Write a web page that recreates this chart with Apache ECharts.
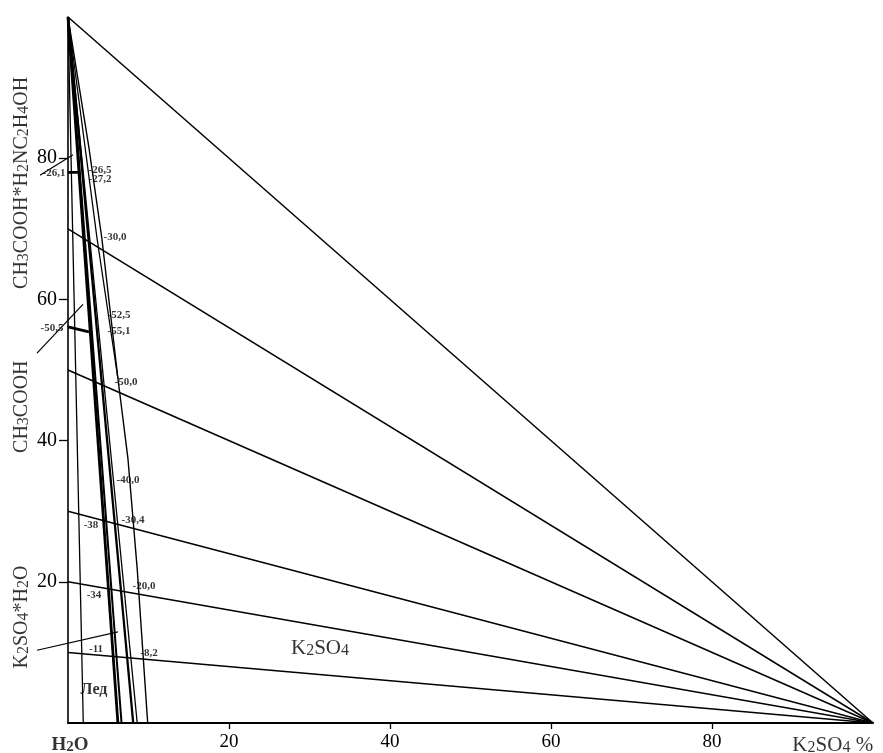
<!DOCTYPE html>
<html>
<head>
<meta charset="utf-8">
<script src="https://cdn.jsdelivr.net/npm/echarts@6/dist/echarts.min.js"></script>
<style>
  html, body { margin: 0; padding: 0; background: #fff; }
  #chart { width: 883px; height: 753px; }
</style>
</head>
<body>
<div id="chart"></div>
<script>
// Polythermal solubility diagram, water corner at the origin
const xTicks = [20, 40, 60, 80];
const yTicks = [20, 40, 60, 80];

// isotherm section rays from the K2SO4 vertex to the water–salt side (% of the salt)
const rayLevels = [10, 20, 30, 50, 70];

// triangle side from the organic salt vertex to the K2SO4 vertex
const sideLine = [[0, 100], [100, 0]];

// crystallization boundary lines
const iceLine = [[0, 100], [1.9, 0]];
const boundB1 = [[0, 100], [6.2, 0]];
const boundB2 = [[0, 100], [6.65, 0]];
const boundC1 = [[0, 100], [8.1, 0]];
const boundC2 = [[0, 100], [8.6, 0]];
const boundD = [[0, 100], [2.6, 81.5], [4.2, 68.7], [6.2, 48.8], [7.45, 37.4], [8.6, 21.8], [9.9, 0]];
const boundE = [[0, 100], [3.6, 68.7], [6.2, 48.8]];

// short tie segments
const tieUpper = [[0, 78.0], [1.5, 78.0]];
const tieLower = [[0, 56.1], [2.6, 55.4]];

// leaders from the field names to their fields: [x1, y1, x2, y2]
const leaders = [
  [-3.48, 77.6, 0.62, 80.5],
  [-3.85, 52.4, 1.86, 59.3],
  [-3.85, 10.3, 6.2, 12.9]
];

// temperature marks (°C) and field names
const tempLabels = ['-26,1', '-26,5', '-27,2', '-30,0', '-52,5', '-55,1', '-50,5', '-50,0', '-40,0', '-38', '-30,4', '-34', '-20,0', '-11', '-8,2'];
const tempAnchors = [[-1.74, 77.9], [3.98, 78.3], [3.98, 77.05], [5.84, 68.8], [6.34, 57.8], [6.34, 55.5], [-1.99, 55.9], [7.2, 48.3], [7.45, 34.4], [2.86, 28.0], [8.07, 28.75], [3.23, 18.1], [9.44, 19.4], [3.48, 10.5], [10.06, 9.9]];

const fieldNames = ['CH3COOH*H2NC2H4OH', 'CH3COOH', 'K2SO4*H2O', 'K2SO4', 'Лед', 'H2O', 'K2SO4 %'];
const fieldAnchors = [[-5.71, 76.5], [-5.71, 44.8], [-5.71, 15.0], [31.3, 10.6], [3.23, 4.7], [0.25, -3.1], [95.0, -3.2]];

const SERIF = "'Liberation Serif', 'Times New Roman', serif";
const INK = '#000';

// chemical formula -> rich text with smaller digit subscripts
function formula(str, style) {
  return str.replace(/[^0-9]+|[0-9]+/g, function (part) {
    return /[0-9]/.test(part) ? '{' + style + 's|' + part + '}' : '{' + style + '|' + part + '}';
  });
}

function richSet(name, size, weight) {
  const o = {};
  o[name] = { fontFamily: SERIF, fontSize: size, color: INK, fontWeight: weight };
  o[name + 's'] = { fontFamily: SERIF, fontSize: Math.round(size * 0.78), color: INK, fontWeight: weight, verticalAlign: 'bottom' };
  return o;
}

const rich = Object.assign({},
  richSet('big', 20, 'normal'),
  richSet('mid', 21, 'normal'),
  richSet('cor', 21, 'normal'),
  richSet('axn', 19, 'bold'));

function lineSeries(points, width) {
  return {
    type: 'line', data: points, symbol: 'none', silent: true, animation: false,
    lineStyle: { color: INK, width: width }, z: 3
  };
}

const series = [];
series.push(lineSeries(sideLine, 1.5));
rayLevels.forEach(function (v) { series.push(lineSeries([[0, v], [100, 0]], 1.5)); });
series.push(lineSeries(iceLine, 1.3));
series.push(lineSeries(boundB1, 2.8));
series.push(lineSeries(boundB2, 2.0));
series.push(lineSeries(boundC1, 2.3));
series.push(lineSeries(boundC2, 1.3));
series.push(lineSeries(boundD, 1.4));
series.push(lineSeries(boundE, 1.3));
series.push(lineSeries(tieUpper, 2.8));
series.push(lineSeries(tieLower, 2.8));

// leader strokes may run past the axis, so they are drawn unclipped
series.push({
  type: 'custom', coordinateSystem: 'cartesian2d', silent: true, animation: false, clip: false, z: 4,
  data: leaders,
  encode: { x: [0, 2], y: [1, 3] },
  renderItem: function (params, api) {
    const p1 = api.coord([api.value(0), api.value(1)]);
    const p2 = api.coord([api.value(2), api.value(3)]);
    return {
      type: 'line',
      shape: { x1: p1[0], y1: p1[1], x2: p2[0], y2: p2[1] },
      style: { stroke: INK, lineWidth: 1.2 }
    };
  }
});

// temperature marks
series.push({
  type: 'scatter', symbolSize: 0, silent: true, animation: false, clip: false, z: 5,
  data: tempLabels.map(function (t, i) { return { name: t, value: tempAnchors[i] }; }),
  label: {
    show: true, position: 'inside', formatter: '{b}',
    fontFamily: SERIF, fontSize: 11, fontWeight: 'bold', color: INK
  }
});

// field names
const fieldStyle = [
  { key: 'big', rotate: 90 }, { key: 'big', rotate: 90 }, { key: 'big', rotate: 90 },
  { key: 'mid', rotate: 0 }, { key: null, rotate: 0 }, { key: 'axn', rotate: 0 }, { key: 'cor', rotate: 0 }
];
series.push({
  type: 'scatter', symbolSize: 0, silent: true, animation: false, clip: false, z: 5,
  data: fieldNames.map(function (n, i) {
    const st = fieldStyle[i];
    const lab = st.key
      ? { formatter: formula(n, st.key), rotate: st.rotate, rich: rich }
      : { formatter: n, fontFamily: SERIF, fontSize: 16, fontWeight: 'bold', color: INK };
    return { name: n, value: fieldAnchors[i], label: lab };
  }),
  label: { show: true, position: 'inside', color: INK }
});

const chart = echarts.init(document.getElementById('chart'));
chart.setOption({
  animation: false,
  backgroundColor: '#fff',
  grid: { left: 68, right: 10, top: 17, bottom: 30, containLabel: false },
  xAxis: {
    type: 'value', min: 0, max: 100,
    axisLine: { show: true, lineStyle: { color: INK, width: 2 } },
    axisTick: { show: true, customValues: xTicks, length: 6, lineStyle: { color: INK, width: 1.3 } },
    axisLabel: { customValues: xTicks, margin: 10, fontFamily: SERIF, fontSize: 19, color: INK },
    splitLine: { show: false }
  },
  yAxis: {
    type: 'value', min: 0, max: 100,
    axisLine: { show: true, lineStyle: { color: INK, width: 1.6 } },
    axisTick: { show: true, customValues: yTicks, length: 9, lineStyle: { color: INK, width: 1.3 } },
    axisLabel: { customValues: yTicks, margin: 11, fontFamily: SERIF, fontSize: 20, color: INK },
    splitLine: { show: false }
  },
  series: series
});
</script>
</body>
</html>
